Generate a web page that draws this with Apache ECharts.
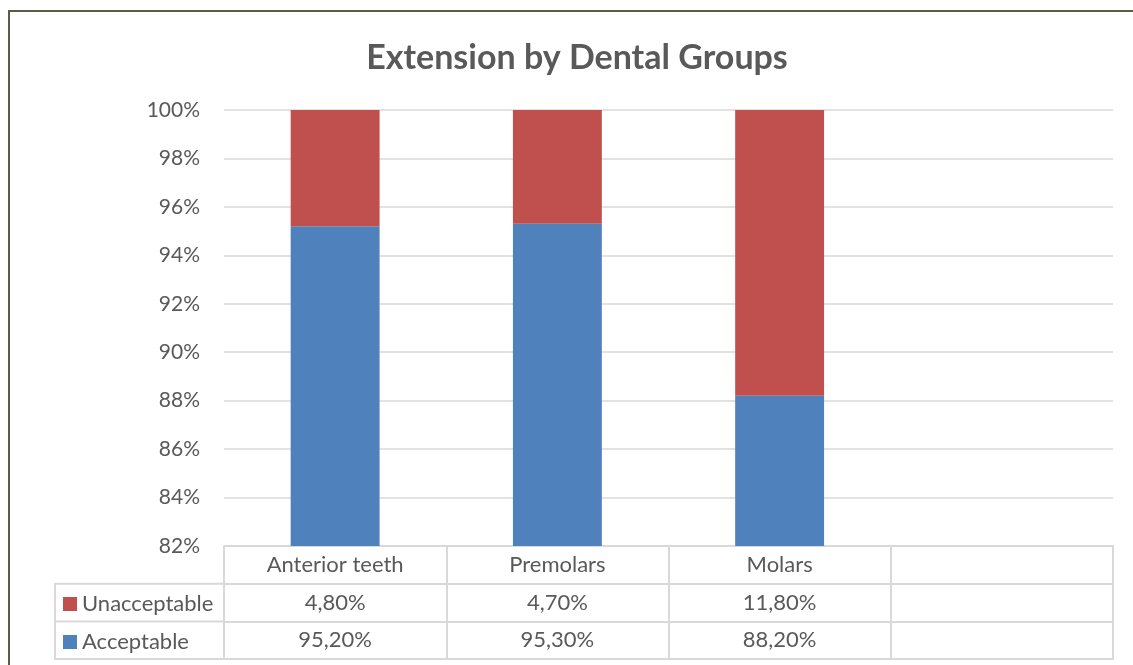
<!DOCTYPE html>
<html>
<head>
<meta charset="utf-8">
<script src="https://cdn.jsdelivr.net/npm/echarts@6/dist/echarts.min.js"></script>
<style>
  html, body { margin: 0; padding: 0; background: #fff; }
  #chart { width: 1133px; height: 665px; }
</style>
</head>
<body>
<div id="chart"></div>
<script>
// chart data
const categories = ['Anterior teeth', 'Premolars', 'Molars', ''];
const acceptable = [95.2, 95.3, 88.2, '-'];
const unacceptable = [4.8, 4.7, 11.8, '-'];
const acceptableLabels = ['95,20%', '95,30%', '88,20%', ''];
const unacceptableLabels = ['4,80%', '4,70%', '11,80%', ''];

const fontFamily = 'Lato, "Open Sans", sans-serif';
const textColor = '#595959';
const lineColor = '#d9d9d9';
const rowH = 37.7;

let chart = echarts.init(document.getElementById('chart'), null, { renderer: 'canvas' });

// one category axis per table row, stacked below the plot with offsets
function tableAxis(data, offset, showTick) {
  return {
    type: 'category',
    data: data,
    position: 'bottom',
    offset: offset,
    boundaryGap: true,
    axisLine: { show: true, lineStyle: { color: lineColor, width: 2 } },
    axisTick: {
      show: showTick,
      interval: 0,
      inside: false,
      length: rowH,
      lineStyle: { color: lineColor, width: 2 }
    },
    axisLabel: {
      show: showTick,
      interval: 0,
      margin: 8,
      color: textColor,
      fontFamily: fontFamily,
      fontSize: 22
    },
    splitLine: { show: false }
  };
}

let option = {
  animation: false,
  backgroundColor: '#fff',
  title: {
    text: 'Extension by Dental Groups',
    left: 572,
    top: 36,
    textAlign: 'center',
    textStyle: {
      color: textColor,
      fontFamily: fontFamily,
      fontWeight: 'bold',
      fontSize: 34
    }
  },
  legend: {
    orient: 'vertical',
    left: 58,
    top: 588,
    itemWidth: 14,
    itemHeight: 14,
    itemGap: 16,
    icon: 'rect',
    data: ['Unacceptable', 'Acceptable'],
    textStyle: { color: textColor, fontFamily: fontFamily, fontSize: 22 }
  },
  grid: {
    left: 224,
    right: 20,
    top: 110,
    bottom: 119,
    containLabel: false
  },
  xAxis: [
    tableAxis(categories, 0, true),
    tableAxis(unacceptableLabels, rowH, true),
    tableAxis(acceptableLabels, rowH * 2, true),
    tableAxis(categories, rowH * 3, false)
  ],
  yAxis: {
    type: 'value',
    min: 82,
    max: 100,
    interval: 2,
    axisLine: { show: false },
    axisTick: { show: false },
    axisLabel: {
      formatter: '{value}%',
      margin: 24,
      color: textColor,
      fontFamily: fontFamily,
      fontSize: 21
    },
    splitLine: { lineStyle: { color: lineColor, width: 1.5 } }
  },
  series: [
    {
      name: 'Acceptable',
      type: 'bar',
      stack: 'total',
      barWidth: '40%',
      clip: true,
      itemStyle: { color: '#4f81bd' },
      data: acceptable
    },
    {
      name: 'Unacceptable',
      type: 'bar',
      stack: 'total',
      barWidth: '40%',
      clip: true,
      itemStyle: { color: '#c0504d' },
      data: unacceptable
    }
  ],
  graphic: [
    // outer chart border
    {
      type: 'rect',
      shape: { x: 9, y: 11, width: 1200, height: 700 },
      style: { fill: null, stroke: '#5b5b4b', lineWidth: 2 },
      silent: true
    },
    // legend column of the data table
    {
      type: 'polyline',
      shape: { points: [[224, 546 + rowH], [55, 546 + rowH], [55, 546 + rowH * 3], [224, 546 + rowH * 3]] },
      style: { fill: null, stroke: lineColor, lineWidth: 2 },
      silent: true
    },
    {
      type: 'line',
      shape: { x1: 55, y1: 546 + rowH * 2, x2: 224, y2: 546 + rowH * 2 },
      style: { stroke: lineColor, lineWidth: 2 },
      silent: true
    }
  ]
};

chart.setOption(option);
</script>
</body>
</html>
